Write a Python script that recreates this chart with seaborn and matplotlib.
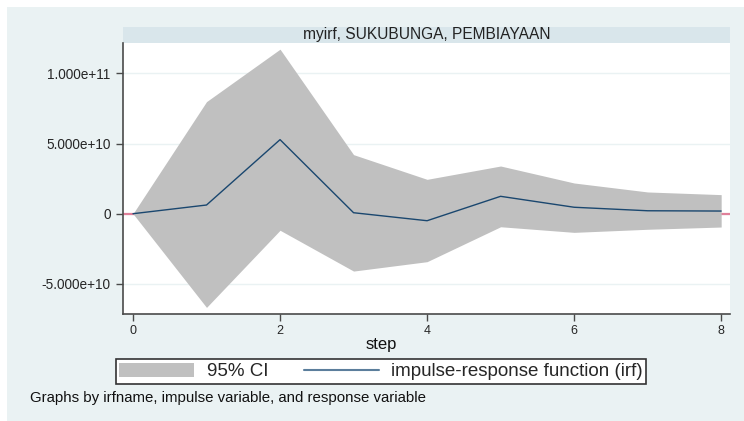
import matplotlib
matplotlib.use("Agg")
import numpy as np
import pandas as pd
import seaborn as sns
import matplotlib.pyplot as plt
from matplotlib.patches import Rectangle, Patch
from matplotlib.lines import Line2D

# values
steps = [0, 1, 2, 3, 4, 5, 6, 7, 8]
irf = [0, 6.2e9, 5.28e10, 7e8, -5.0e9, 1.24e10, 4.6e9, 2.1e9, 1.9e9]
ci_upper = [0, 7.99e10, 1.173e11, 4.21e10, 2.45e10, 3.40e10, 2.19e10, 1.55e10, 1.36e10]
ci_lower = [0, -6.68e10, -1.18e10, -4.09e10, -3.42e10, -9.3e9, -1.33e10, -1.11e10, -9.5e9]
y_ticks = [-5e10, 0, 5e10, 1e11]
y_labels = ["-5.000e+10", "0", "5.000e+10", "1.000e+11"]
x_ticks = [0, 2, 4, 6, 8]
panel_title = "myirf, SUKUBUNGA, PEMBIAYAAN"
legend_labels = ["95% CI", "impulse-response function (irf)"]
footnote = "Graphs by irfname, impulse variable, and response variable"

bg = "#EAF2F3"
strip = "#D9E6EB"
ci_col = "#C0C0C0"
line_col = "#1A476F"
zero_col = "#E0809A"
axis_col = "#4A4A4A"

sns.set_theme(style="white")
plt.rcParams["font.family"] = ["Liberation Sans", "DejaVu Sans"]

W, H = 744, 421
fig = plt.figure(figsize=(W / 100, H / 100), dpi=100, facecolor="white")


def fx(px):
    return px / W


def fy(py):
    return 1 - py / H


# graph region background (white edge on top and left as in the reference)
fig.patches.append(Rectangle((fx(7), 0), 1 - fx(7), fy(7), transform=fig.transFigure,
                             facecolor=bg, edgecolor="none", zorder=-2))
# title strip above the panel
fig.patches.append(Rectangle((fx(123), fy(43)), fx(730) - fx(123), fy(27) - fy(43),
                             transform=fig.transFigure, facecolor=strip, edgecolor="none", zorder=-1))
fig.text(fx(427), fy(35), panel_title, ha="center", va="center", fontsize=11.2, color="#222222")

ax = fig.add_axes([fx(123), fy(314), fx(730) - fx(123), fy(43) - fy(314)])
ax.set_zorder(2)
ax.set_facecolor("white")

df = pd.DataFrame({"step": steps, "irf": irf, "lo": ci_lower, "hi": ci_upper})

for t in y_ticks:
    ax.axhline(t, color=bg, lw=1.0, zorder=0.5)
ax.axhline(0, color=zero_col, lw=1.6, zorder=1)
ax.fill_between(df["step"], df["lo"], df["hi"], color=ci_col, lw=0, zorder=2)
sns.lineplot(data=df, x="step", y="irf", color=line_col, lw=1.0, ax=ax, zorder=3)

ax.set_xlim(-0.136, 8.12)
ax.set_ylim(-7.15e10, 1.217e11)
ax.set_xticks(x_ticks)
ax.set_xticklabels([str(t) for t in x_ticks], fontsize=9)
ax.set_yticks(y_ticks)
ax.set_yticklabels(y_labels, fontsize=9.8)
ax.set_xlabel("")
ax.set_ylabel("")
ax.tick_params(axis="both", which="major", length=5, width=1, color=axis_col,
               direction="out", left=True, bottom=True)
ax.tick_params(axis="y", pad=4)
ax.tick_params(axis="x", pad=3)
for side in ["top", "right"]:
    ax.spines[side].set_visible(False)
for side in ["left", "bottom"]:
    ax.spines[side].set_color(axis_col)
    ax.spines[side].set_linewidth(1.2)

fig.text(fx(381), fy(345), "step", ha="center", va="center", fontsize=12, color="#111111")

handles = [Patch(facecolor=ci_col, edgecolor="none"),
           Line2D([0], [0], color="#5B7E9C", lw=1.5)]
leg = fig.legend(handles, legend_labels, loc="center", bbox_to_anchor=(fx(381), fy(371.5)),
                 ncol=2, fontsize=13.5, frameon=True, fancybox=False, handlelength=4.0,
                 handleheight=0.8, handletextpad=0.65, columnspacing=1.9, borderpad=0.2,
                 borderaxespad=0)
leg.get_frame().set_edgecolor("#333333")
leg.get_frame().set_linewidth(1.2)
leg.get_frame().set_facecolor("white")
leg.get_frame().set_alpha(1)

fig.text(fx(30), fy(398), footnote, ha="left", va="center", fontsize=10.8, color="#111111")

fig.savefig("out.png", dpi=100, facecolor="white")
